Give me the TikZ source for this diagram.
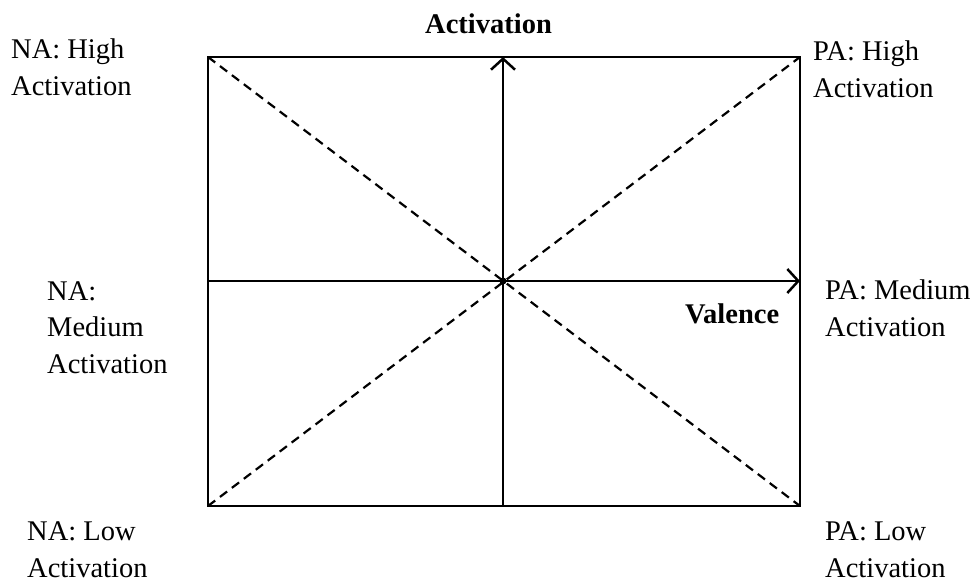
\documentclass[tikz,border=0pt]{standalone}
\usepackage{fontspec}
\setmainfont{Liberation Serif}
\usetikzlibrary{arrows.meta}
\begin{document}
\begin{tikzpicture}[x=1pt,y=-1pt,
  frame/.style={line width=2.7pt},
  axis/.style={line width=2.5pt,-{Straight Barb[length=11pt,width=24pt,line width=2.5pt]}},
  diag/.style={line width=2.2pt,dash pattern=on 9pt off 6pt},
  lbl/.style={anchor=base west,inner sep=0pt,align=left,font=\fontsize{28.5}{36.5}\selectfont},
  blbl/.style={lbl,font=\fontsize{28.5}{36.5}\selectfont\bfseries}]
\useasboundingbox (0,0) rectangle (976,584);
\coordinate (tl) at (208,57);
\coordinate (tr) at (800,57);
\coordinate (bl) at (208,506);
\coordinate (br) at (800,506);
\coordinate (c) at (503,281);
\coordinate (vb) at (503,506);
\coordinate (vt) at (503,57);
\coordinate (hl) at (208,281);
\coordinate (hr) at (800,281);
\draw[diag] (tl) -- (br);
\draw[diag] (bl) -- (tr);
\draw[frame] (tl) rectangle (br);
\draw[axis] (vb) -- (vt);
\draw[axis] (hl) -- (hr);
\fill (c) circle (3.5);
\node[blbl] (act) at (425,33) {Activation};
\node[blbl] (val) at (685,323) {Valence};
\node[lbl] (nah) at (11,95) {NA: High\\Activation};
\node[lbl] (pah) at (813,97) {PA: High\\Activation};
\node[lbl] (nam) at (47,373) {NA:\\Medium\\Activation};
\node[lbl] (pam) at (825,336) {PA: Medium\\Activation};
\node[lbl] (nal) at (27,577) {NA: Low\\Activation};
\node[lbl] (pal) at (825,577) {PA: Low\\Activation};
\end{tikzpicture}
\end{document}
